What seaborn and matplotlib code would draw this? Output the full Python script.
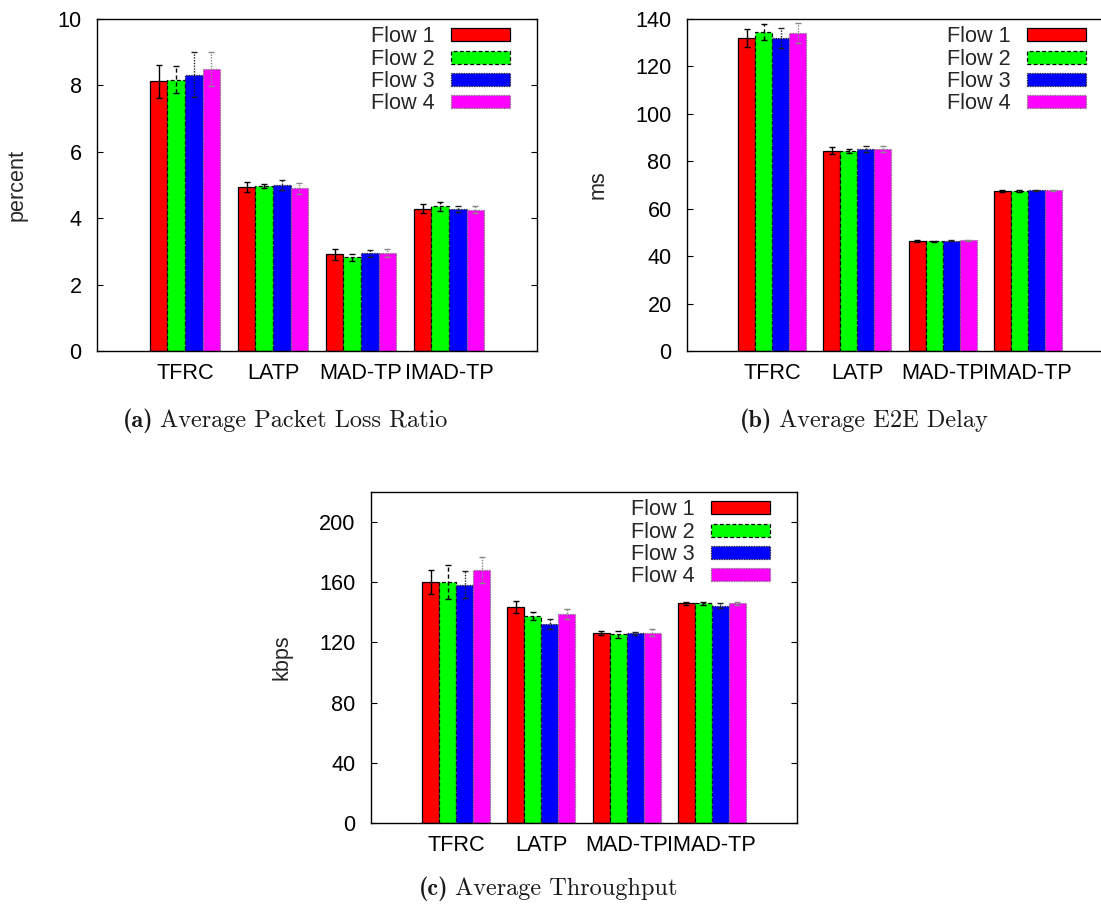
import numpy as np
import pandas as pd
import matplotlib
matplotlib.use("Agg")
import matplotlib.pyplot as plt
import seaborn as sns
from matplotlib.patches import Patch

# ---------------- data ----------------
protocols = ["TFRC", "LATP", "MAD-TP", "IMAD-TP"]
flows = ["Flow 1", "Flow 2", "Flow 3", "Flow 4"]
flow_colors = ["#ff0000", "#00ff00", "#0000ff", "#ff00ff"]

# rows = flows, columns = protocols
loss_vals = [[8.12, 4.93, 2.91, 4.29],
             [8.17, 4.97, 2.82, 4.36],
             [8.32, 5.00, 2.94, 4.28],
             [8.49, 4.90, 2.94, 4.26]]
loss_errs = [[0.49, 0.15, 0.16, 0.13],
             [0.40, 0.06, 0.10, 0.14],
             [0.68, 0.16, 0.10, 0.10],
             [0.52, 0.17, 0.12, 0.10]]

delay_vals = [[132.0, 84.5, 46.3, 67.3],
              [134.5, 84.2, 46.2, 67.3],
              [132.0, 85.1, 46.5, 67.7],
              [134.1, 85.1, 46.6, 67.7]]
delay_errs = [[3.7, 1.4, 0.3, 0.4],
              [3.3, 0.8, 0.3, 0.4],
              [4.2, 1.2, 0.3, 0.3],
              [4.2, 1.2, 0.3, 0.3]]

thr_vals = [[160.2, 143.6, 126.4, 145.9],
            [160.2, 137.5, 125.3, 145.9],
            [158.5, 132.2, 126.0, 144.5],
            [168.4, 138.8, 126.6, 145.9]]
thr_errs = [[7.7, 3.8, 1.5, 1.3],
            [11.0, 2.8, 2.2, 0.8],
            [9.0, 3.3, 1.2, 1.5],
            [8.6, 3.5, 2.4, 1.0]]

y_labels = ["percent", "ms", "kbps"]
caption_tags = ["(a)", "(b)", "(c)"]
caption_texts = ["Average Packet Loss Ratio", "Average E2E Delay",
                 "Average Throughput"]

# ---------------- style ----------------
sns.set_style("ticks")
plt.rcParams["font.family"] = ["Liberation Sans", "DejaVu Sans"]

edge_styles = ["-", (0, (3, 2)), (0, (1, 1)), (0, (1, 1))]
edge_colors = ["black", "black", "#222222", "#777777"]
err_colors = ["black", "black", "#222222", "#888888"]

FS = 15.6
CFS = 17.5

fig = plt.figure(figsize=(11.01, 9.06), dpi=100)

W, H = 1101.0, 906.0
def rect(l, t, r, b):
    return [l / W, 1 - b / H, (r - l) / W, (b - t) / H]

ax_a = fig.add_axes(rect(97, 19, 537, 351))
ax_b = fig.add_axes(rect(687, 19, 1113, 351))
ax_c = fig.add_axes(rect(371, 492, 797, 823))


def long_frame(vals, errs):
    rows = []
    for fi, fl in enumerate(flows):
        for pi, p in enumerate(protocols):
            rows.append({"protocol": p, "flow": fl,
                         "value": vals[fi][pi], "err": errs[fi][pi]})
    return pd.DataFrame(rows)


def draw(ax, vals, errs, ylim, yticks, ylabel, label_x, axw_px):
    df = long_frame(vals, errs)
    sns.barplot(data=df, x="protocol", y="value", hue="flow",
                order=protocols, hue_order=flows, palette=flow_colors,
                errorbar=None, width=0.8, gap=0, saturation=1,
                edgecolor="black", linewidth=1.0, legend=False, ax=ax)
    bar_conts = list(ax.containers)
    for fi, cont in enumerate(bar_conts):
        xs, ys = [], []
        for patch in cont.patches:
            patch.set_linestyle(edge_styles[fi])
            patch.set_edgecolor(edge_colors[fi])
            patch.set_linewidth(0.9)
            xs.append(patch.get_x() + patch.get_width() / 2)
            ys.append(patch.get_height())
        sub = df[df["flow"] == flows[fi]].set_index("protocol").loc[protocols]
        eb = ax.errorbar(xs, ys, yerr=sub["err"].values, fmt="none",
                         ecolor=err_colors[fi], elinewidth=1.0,
                         capsize=2.5, capthick=1.0, zorder=5)
        eb[2][0].set_linestyle(edge_styles[fi])

    ax.set_xlim(-1, 4)
    ax.set_ylim(*ylim)
    ax.set_yticks(yticks)
    ax.set_xlabel("")
    ax.set_ylabel(ylabel, fontsize=FS)
    ax.yaxis.set_label_coords(label_x, 0.5)
    ax.tick_params(axis="y", direction="in", length=4, width=0.8,
                   left=True, right=True, labelsize=FS, pad=11,
                   colors="black")
    ax.tick_params(axis="x", length=0, labelsize=FS, pad=8.5, colors="black")
    for s in ax.spines.values():
        s.set_visible(True)
        s.set_color("black")
        s.set_linewidth(1.0)

    handles = [Patch(facecolor=flow_colors[i], edgecolor=edge_colors[i],
                     linestyle=edge_styles[i], linewidth=0.9, label=flows[i])
               for i in range(4)]
    ax.legend(handles=handles, loc="upper right",
              bbox_to_anchor=(1 - 27 / axw_px, 1 - 7.5 / 332),
              frameon=False, markerfirst=False, fontsize=FS,
              handlelength=2.72, handleheight=0.55, handletextpad=0.74,
              labelspacing=0.06, borderpad=0, borderaxespad=0)


draw(ax_a, loss_vals, loss_errs, (0, 10), np.arange(0, 11, 2), y_labels[0],
     -0.157, 440)
draw(ax_b, delay_vals, delay_errs, (0, 140), np.arange(0, 141, 20), y_labels[1],
     -0.185, 426)
draw(ax_c, thr_vals, thr_errs, (0, 220), np.arange(0, 201, 40), y_labels[2],
     -0.185, 426)

# captions: bold tag + regular text, centred as a whole
cap_centers = [(285, 427), (864, 427), (548, 895)]
fig.canvas.draw()
renderer = fig.canvas.get_renderer()
gap_px = 7
for tag, txt, (cx, by) in zip(caption_tags, caption_texts, cap_centers):
    t1 = fig.text(0, 1 - by / H, tag, family="cmb10", fontsize=CFS,
                  ha="left", va="baseline", color="#1a1a1a")
    t2 = fig.text(0, 1 - by / H, txt, family="cmr10", fontsize=CFS,
                  ha="left", va="baseline", color="#1a1a1a")
    w1 = t1.get_window_extent(renderer).width
    w2 = t2.get_window_extent(renderer).width
    total = w1 + gap_px + w2
    x0 = cx - total / 2
    t1.set_x(x0 / W)
    t2.set_x((x0 + w1 + gap_px) / W)

fig.savefig("out.png", dpi=100)
